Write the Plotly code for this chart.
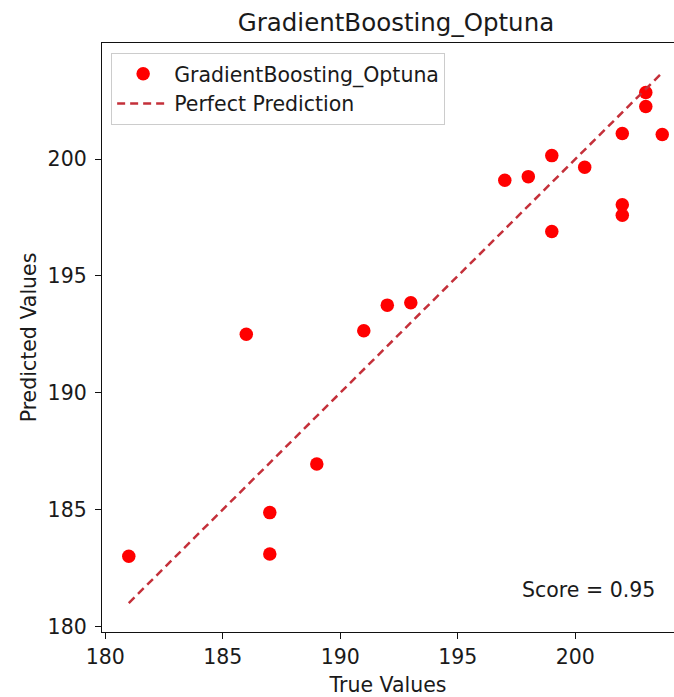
import plotly.graph_objects as go

# Data
true_values = [181, 186, 187, 187, 189, 191, 192, 193, 197, 198,
               199, 199, 200.4, 202, 202, 202, 203, 203, 203.7]
predicted_values = [183.0, 192.5, 184.87, 183.1, 186.95, 192.65, 193.75, 193.85, 199.1, 199.25,
                    200.15, 196.9, 199.65, 201.1, 198.05, 197.6, 202.85, 202.25, 201.05]
x_ticks = [180, 185, 190, 195, 200]
y_ticks = [180, 185, 190, 195, 200]
model_name = "GradientBoosting_Optuna"
score = 0.95

line_min = min(true_values)
line_max = max(true_values)

FONT = "DejaVu Sans"
TXT = "#1a1a1a"
FS = 20.5

fig = go.Figure()
fig.add_trace(go.Scatter(
    x=true_values, y=predicted_values, mode="markers", name=model_name,
    marker=dict(color="#ff0000", size=13.5, line=dict(width=0)),
))
fig.add_trace(go.Scatter(
    x=[line_min, line_max], y=[line_min, line_max], mode="lines",
    name="Perfect Prediction",
    line=dict(color="#c4303a", width=2.5, dash="8px,5px"),
))

axis_common = dict(
    showgrid=False, zeroline=False, showline=True, linecolor="#111111", linewidth=1.3,
    ticks="outside", ticklen=6, tickwidth=1.3, tickcolor="#111111",
    tickfont=dict(family=FONT, size=FS, color=TXT),
)

fig.update_layout(
    width=674, height=697,
    margin=dict(l=102, r=0, t=43, b=65),
    paper_bgcolor="white", plot_bgcolor="white",
    font=dict(family=FONT, color=TXT),
    title=dict(text=model_name, x=0.5875, xref="container", xanchor="center",
               y=1 - 22 / 697, yref="container", yanchor="middle",
               font=dict(family=FONT, size=24.5, color=TXT)),
    xaxis=dict(range=[179.86, 204.2], tickvals=x_ticks, mirror=True,
               title=dict(text="True Values", font=dict(family=FONT, size=FS, color=TXT), standoff=10),
               **axis_common),
    yaxis=dict(range=[179.76, 204.97], tickvals=y_ticks, mirror=False, ticklabelstandoff=4,
               title=dict(text="Predicted Values", font=dict(family=FONT, size=FS, color=TXT), standoff=5),
               **axis_common),
    legend=dict(x=0.016, y=0.983, xanchor="left", yanchor="top",
                bgcolor="rgba(255,255,255,0.8)", bordercolor="#cccccc", borderwidth=1,
                font=dict(family=FONT, size=FS, color=TXT), itemwidth=52),
    showlegend=True,
)

fig.add_annotation(
    text=f"Score = {score:.2f}", xref="paper", yref="paper",
    x=0.970, y=0.071, xanchor="right", yanchor="middle", showarrow=False,
    font=dict(family=FONT, size=FS, color=TXT),
)

fig.write_html("out.html")
